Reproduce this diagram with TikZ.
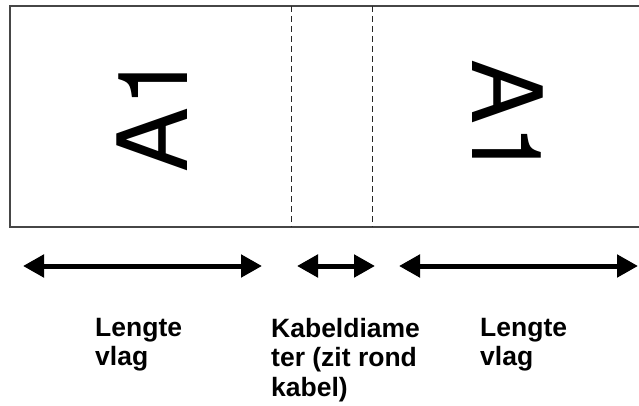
\documentclass[tikz,border=0pt]{standalone}
\usepackage{fontspec}
\setmainfont{Liberation Sans}
\newfontfamily\tagfont{TeX Gyre Heros}
\usetikzlibrary{arrows.meta, positioning}
\definecolor{framegray}{RGB}{70,70,70}

\begin{document}
\begin{tikzpicture}[
  x=1pt, y=1pt,
  frame/.style={draw=framegray, line width=1.3pt},
  cutline/.style={draw=black!85, line width=0.8pt, dash pattern=on 6pt off 4pt},
  dimarr/.style={{Triangle[length=21pt, width=22pt]}-{Triangle[length=21pt, width=22pt]}, line width=5pt},
  tagtxt/.style={font=\tagfont\fontsize{97}{97}\selectfont, inner sep=0pt},
  lbl/.style={font=\bfseries\fontsize{26.5}{29.5}\selectfont, align=left, anchor=north west, inner sep=0pt}
]
\useasboundingbox (0,0) rectangle (639,-406);

% label strip
\draw[frame] (640,-6) -- (10,-6) -- (10,-227) -- (640,-227);
\draw[cutline] (291.5,-6) -- (291.5,-227);
\draw[cutline] (372,-6) -- (372,-227);

\node[tagtxt, rotate=90] (tagleft) at (152.5,-113) {A1};
\node[tagtxt, rotate=-90] (tagright) at (508,-119) {A1};

% dimensions
\coordinate (l1) at (23,-266);
\coordinate (l2) at (262,-266);
\coordinate (m1) at (297,-266);
\coordinate (m2) at (375,-266);
\coordinate (r1) at (399,-266);
\coordinate (r2) at (638,-266);
\draw[dimarr] (l1) -- (l2);
\draw[dimarr] (m1) -- (m2);
\draw[dimarr] (r1) -- (r2);

\node[lbl] (lenleft) at (95,-318) {Lengte\\vlag};
\node[lbl] (diam) at (271,-318) {Kabeldiame\\ter (zit rond\\kabel)};
\node[lbl] (lenright) at (480,-318) {Lengte\\vlag};
\end{tikzpicture}
\end{document}
